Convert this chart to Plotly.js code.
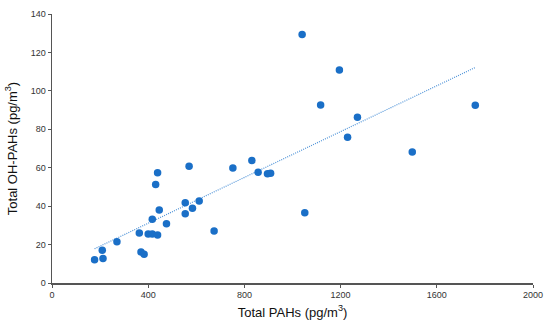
<!DOCTYPE html>
<html>
<head>
<meta charset="utf-8">
<script src="https://cdn.plot.ly/plotly-3.0.1.min.js"></script>
<style>html,body{margin:0;padding:0;background:#fff;}#chart{width:550px;height:325px;}</style>
</head>
<body>
<div id="chart"></div>
<script>
// Total PAHs (pg/m3)
const totalPAHs = [177, 209, 212, 270, 363, 370, 383, 400, 417, 439, 417, 446, 431, 439, 476,
  554, 554, 584, 570, 612, 674, 752, 831, 857, 896, 909, 1051, 1040, 1195, 1117, 1270, 1229, 1760, 1498];
// Total OH-PAHs (pg/m3)
const totalOHPAHs = [12.1, 17.0, 12.7, 21.5, 26.0, 16.1, 14.9, 25.5, 25.5, 25.0, 33.2, 38.0, 51.2, 57.4, 30.9,
  41.8, 36.1, 38.9, 60.8, 42.7, 27.1, 59.9, 63.7, 57.6, 56.8, 57.1, 36.6, 129.3, 110.8, 92.7, 86.3, 75.9, 92.5, 68.2];
const xTicks = [0, 400, 800, 1200, 1600, 2000];
const yTicks = [0, 20, 40, 60, 80, 100, 120, 140];

// linear least-squares trend line
const n = totalPAHs.length;
const mx = totalPAHs.reduce((a, b) => a + b, 0) / n;
const my = totalOHPAHs.reduce((a, b) => a + b, 0) / n;
let sxy = 0, sxx = 0;
for (let i = 0; i < n; i++) { sxy += (totalPAHs[i] - mx) * (totalOHPAHs[i] - my); sxx += (totalPAHs[i] - mx) ** 2; }
const slope = sxy / sxx, intercept = my - slope * mx;
const xMin = Math.min(...totalPAHs), xMax = Math.max(...totalPAHs);
const trendX = [xMin, xMax];
const trendY = trendX.map(x => intercept + slope * x);

const traces = [
  {x: trendX, y: trendY, mode: 'lines', type: 'scatter',
   line: {color: '#4f93d8', width: 1.2, dash: '1px,1.2px'}, hoverinfo: 'skip'},
  {x: totalPAHs, y: totalOHPAHs, mode: 'markers', type: 'scatter',
   marker: {color: '#1a6fc7', size: 7.5}}
];

const axisCommon = {
  showgrid: false, zeroline: false, showline: true, linecolor: '#555', linewidth: 1.5,
  ticks: 'outside', ticklen: 3, tickwidth: 1, tickcolor: '#555',
  tickfont: {family: 'Liberation Sans, Arial, sans-serif', size: 9, color: '#333'}
};

const layout = {
  width: 550, height: 325,
  margin: {l: 52, r: 16.5, t: 14.3, b: 42},
  paper_bgcolor: '#fff', plot_bgcolor: '#fff',
  showlegend: false,
  xaxis: Object.assign({}, axisCommon, {
    range: [0, 2000], tickvals: xTicks, ticktext: xTicks.map(String),
    title: {text: 'Total PAHs (pg/m<sup>3</sup>)', standoff: 8,
            font: {family: 'Liberation Sans, Arial, sans-serif', size: 13, color: '#111'}}
  }),
  yaxis: Object.assign({}, axisCommon, {
    range: [0, 140], tickvals: yTicks, ticktext: yTicks.map(String),
    title: {text: 'Total OH-PAHs (pg/m<sup>3</sup>)', standoff: 10,
            font: {family: 'Liberation Sans, Arial, sans-serif', size: 13, color: '#111'}}
  })
};

Plotly.newPlot('chart', traces, layout, {displayModeBar: false, staticPlot: true});
</script>
</body>
</html>
